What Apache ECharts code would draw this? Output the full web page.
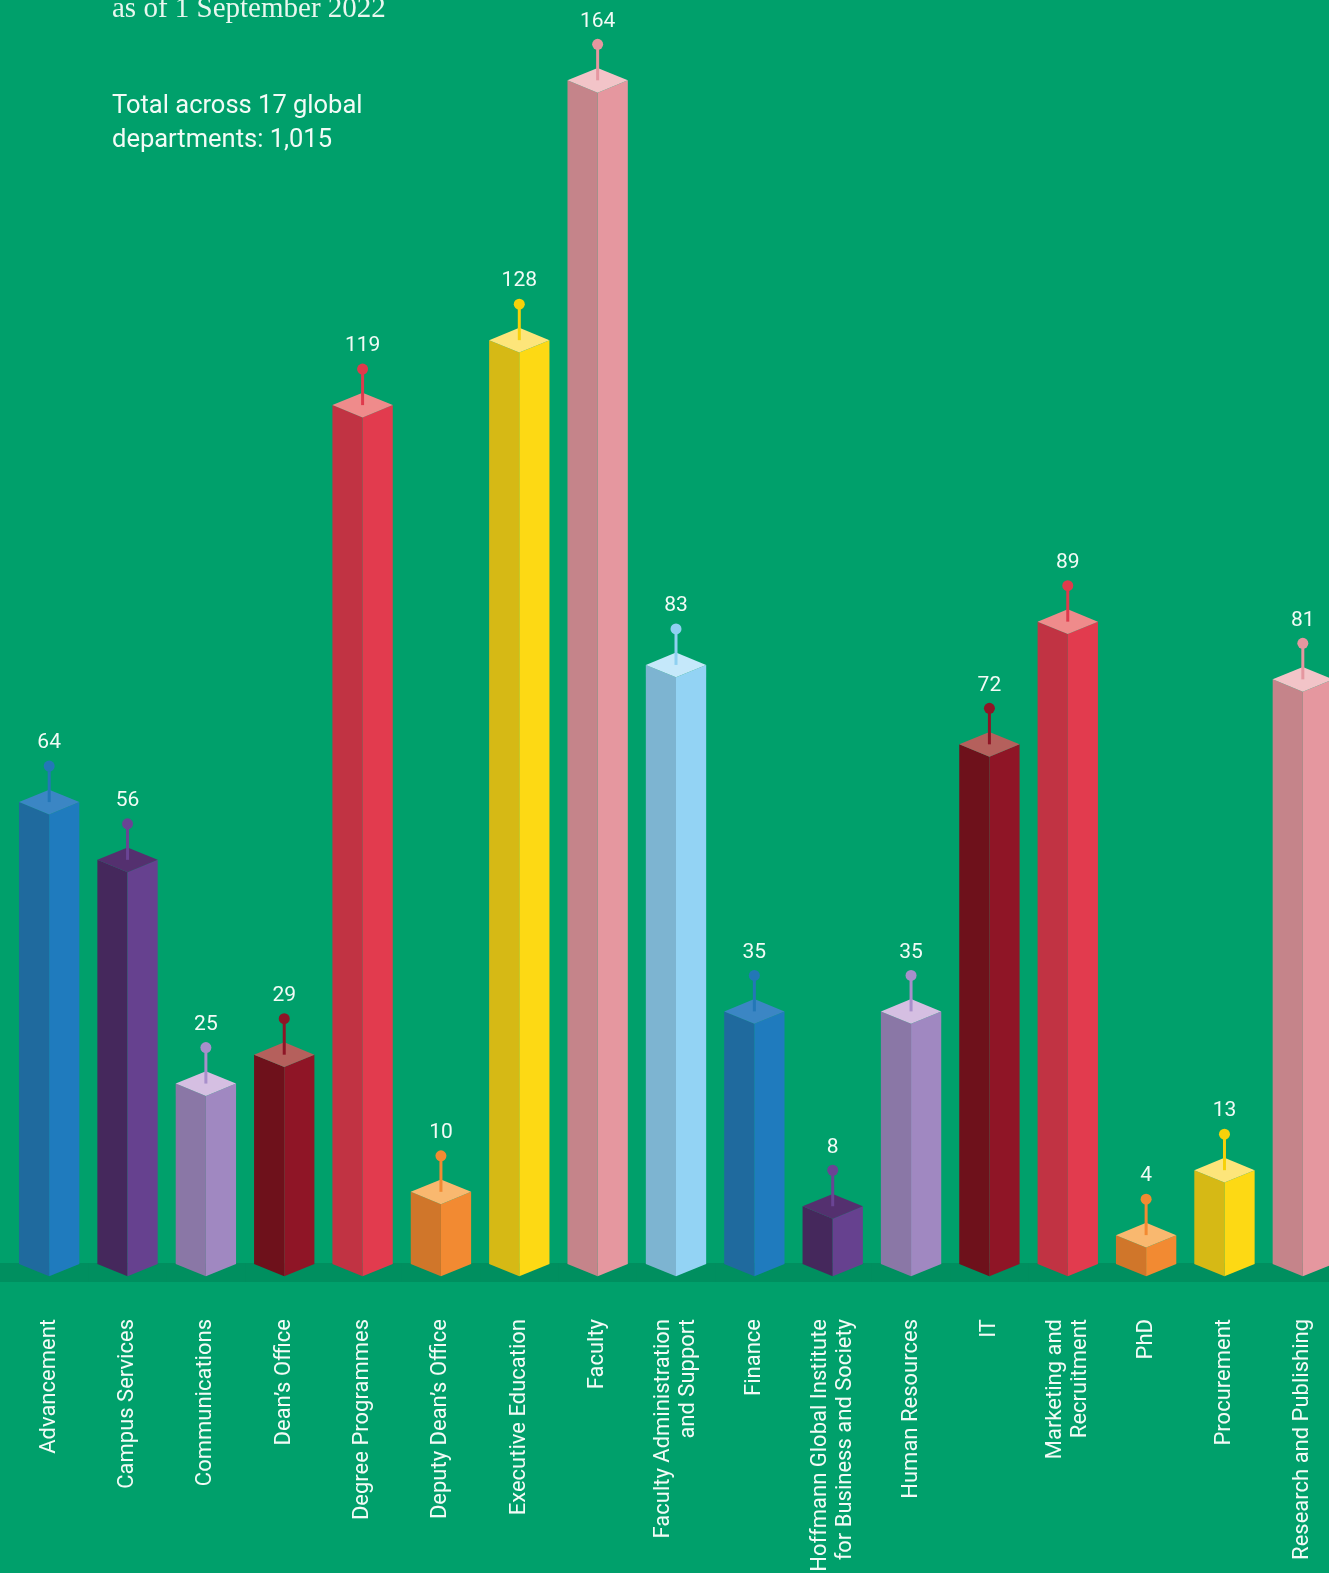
<!DOCTYPE html>
<html>
<head>
<meta charset="utf-8">
<script src="https://cdn.jsdelivr.net/npm/echarts@6/dist/echarts.min.js"></script>
<style>
  html, body { margin: 0; padding: 0; background: #00a06b; }
  #myChart1 { width: 1329px; height: 1573px; }
</style>
</head>
<body>
<div id="myChart1"></div>
<script>
// departments and headcount
var departments = ['Advancement', 'Campus Services', 'Communications', 'Dean\u2019s Office',
    'Degree Programmes', 'Deputy Dean\u2019s Office', 'Executive Education', 'Faculty',
    'Faculty Administration\nand Support', 'Finance',
    'Hoffmann Global Institute\nfor Business and Society', 'Human Resources', 'IT',
    'Marketing and\nRecruitment', 'PhD', 'Procurement', 'Research and Publishing'];
var headcount = [64, 56, 25, 29, 119, 10, 128, 164, 83, 35, 8, 35, 72, 89, 4, 13, 81];

// colours repeat every 9 bars: [left face, right face, top, pin]
var palette = [
    ['#1f6a9e', '#1f7bbe', '#3b86c4', '#2377b7'],
    ['#45285c', '#66418f', '#54306f', '#6a4494'],
    ['#8a77a6', '#a088c1', '#d5bfe2', '#a88fcb'],
    ['#6e111b', '#8f1526', '#b5605c', '#8e1526'],
    ['#c13343', '#e23b4e', '#ef8b8b', '#df3a4c'],
    ['#d0762a', '#f28a32', '#f9b86f', '#f28a32'],
    ['#d6b915', '#fdd914', '#fde57a', '#f7d10a'],
    ['#c5848a', '#e5979f', '#f2c4c8', '#e597a0'],
    ['#7db4d1', '#93d3f4', '#c5e8fa', '#8fd0f1']
];

var myChart1 = echarts.init(document.getElementById('myChart1'));

option = {
    backgroundColor: '#00a06b',
    title: [
        {
            text: 'as of 1 September 2022',
            left: 107,
            top: -10,
            textStyle: { color: '#e8f7ef', fontSize: 29, fontWeight: 'normal', fontFamily: 'Liberation Serif' }
        },
        {
            text: 'Total across 17 global\ndepartments: 1,015',
            left: 107,
            top: 85,
            textStyle: { color: '#f2fbf6', fontSize: 25.5, fontWeight: 'normal', fontFamily: 'Roboto', lineHeight: 34 }
        }
    ],
    grid: { left: 10, width: 1332, top: 37, bottom: 309, outerBoundsMode: 'none', containLabel: false },
    xAxis: {
        type: 'category',
        data: departments,
        axisLine: { show: false },
        axisTick: { show: false },
        axisLabel: {
            interval: 0,
            rotate: 90,
            margin: 55,
            color: '#f2fbf6',
            fontSize: 22,
            lineHeight: 25,
            fontFamily: 'Roboto'
        }
    },
    yAxis: {
        type: 'value',
        min: 0,
        max: 170,
        show: false,
        splitLine: { show: false }
    },
    series: [
        {
            type: 'custom',
            data: headcount.map(function (v, i) { return [i, v]; }),
            renderItem: function (params, api) {
                var i = api.value(0);
                var top = api.coord([i, api.value(1)]);
                var base = api.coord([i, 0]);
                var band = api.size([1, 0])[0];
                var hw = band * 0.385;
                var dh = hw * 0.41;
                var cx = top[0], yt = top[1], yb = base[1];
                var c = palette[i % 9];
                var pinTop = yt - 36;
                var fx = cx - band / 2 - (i === 0 ? band : 0);
                return {
                    type: 'group',
                    children: [
                        // floor strip
                        { type: 'rect', shape: { x: fx, y: yb - 1, width: cx + band / 2 + 1 - fx, height: 19 },
                          style: { fill: '#008f5f' } },
                        { type: 'polygon', shape: { points: [[cx - hw, yt], [cx, yt + dh], [cx, yb + dh], [cx - hw, yb]] },
                          style: { fill: c[0] } },
                        { type: 'polygon', shape: { points: [[cx, yt + dh], [cx + hw, yt], [cx + hw, yb], [cx, yb + dh]] },
                          style: { fill: c[1] } },
                        { type: 'polygon', shape: { points: [[cx - hw, yt], [cx, yt - dh], [cx + hw, yt], [cx, yt + dh]] },
                          style: { fill: c[2] } },
                        { type: 'line', shape: { x1: cx, y1: yt, x2: cx, y2: pinTop },
                          style: { stroke: c[3], lineWidth: 3 } },
                        { type: 'circle', shape: { cx: cx, cy: pinTop, r: 5.5 },
                          style: { fill: c[3] } },
                        { type: 'text', x: cx, y: pinTop - 23,
                          style: { text: String(api.value(1)), fill: '#f2fbf6', font: '21px Roboto',
                                   align: 'center', verticalAlign: 'middle' } }
                    ]
                };
            }
        }
    ]
};

myChart1.setOption(option);
</script>
</body>
</html>
